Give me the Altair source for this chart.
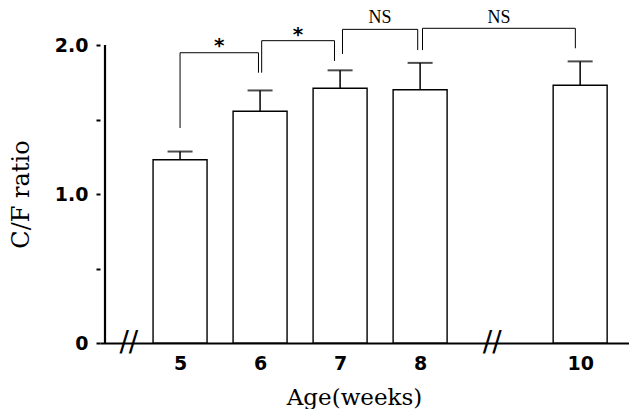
import altair as alt
import pandas as pd

# ---- data ----
ages = [5, 6, 7, 8, 10]
means = [1.23, 1.555, 1.71, 1.70, 1.73]
errs = [0.055, 0.14, 0.12, 0.18, 0.16]

# significance brackets
br_x1 = [5.0, 6.02, 7.03, 8.03]
br_x2 = [5.98, 6.93, 7.97, 9.94]
br_y1 = [1.443, 1.814, 1.94, 1.966]
br_y2 = [1.814, 1.893, 1.966, 1.978]
br_top = [1.948, 2.029, 2.105, 2.112]
br_label = ["*", "*", "NS", "NS"]
lab_y = [1.99, 2.07, 2.18, 2.18]

# axis break positions
breaks_x = [4.36, 8.9]

x_domain = [4.062, 10.548]
y_domain = [0, 2.0]

bars = pd.DataFrame({"age": ages, "mean": means, "err": errs})
bars["top"] = bars["mean"] + bars["err"]

segs = []
for a, b, ya, yb, t in zip(br_x1, br_x2, br_y1, br_y2, br_top):
    segs.append({"x": a, "x2": a, "y": ya, "y2": t})
    segs.append({"x": a, "x2": b, "y": t, "y2": t})
    segs.append({"x": b, "x2": b, "y": yb, "y2": t})
segs = pd.DataFrame(segs)

labs = pd.DataFrame({
    "x": [(a + b) / 2 for a, b in zip(br_x1, br_x2)],
    "y": lab_y,
    "t": br_label,
})
star = labs[labs.t == "*"]
ns = labs[labs.t == "NS"]

brk = pd.DataFrame({"x": breaks_x, "y": [0, 0], "t": ["//", "//"]})
yline = pd.DataFrame({"x": [x_domain[0]], "y": [y_domain[0]], "y2": [y_domain[1]]})

xs = alt.Scale(domain=x_domain, nice=False, zero=False)
ys = alt.Scale(domain=y_domain, nice=False)

xaxis = alt.Axis(
    values=ages, format="d", title="Age(weeks)", titleX=254, titleY=54,
    titleBaseline="middle", titleAlign="center",
    domainColor="black", domainWidth=2, domainOpacity=1,
    titleFont="DejaVu Serif", titleFontSize=23, titleFontWeight="normal", titleColor="black",
)
yaxis = alt.Axis(
    values=[0, 0.5, 1.0, 1.5, 2.0], domain=False,
    labelExpr="datum.value == 0 ? '0' : (datum.value % 1 == 0 ? format(datum.value, '.1f') : '')",
    title="C/F ratio", titleX=-79, titleY=149,
    titleAngle=-90, titleBaseline="middle", titleAlign="center",
    titleFont="DejaVu Serif", titleFontSize=24, titleFontWeight="normal", titleColor="black",
)

base = alt.Chart(bars)

bar = base.mark_bar(size=54, fill="white", stroke="black", strokeWidth=1.4).encode(
    x=alt.X("age:Q", scale=xs, axis=xaxis),
    y=alt.Y("mean:Q", scale=ys, axis=yaxis),
)
axis_line = alt.Chart(yline).mark_rule(color="black", strokeWidth=2.2, clip=False).encode(
    x=alt.X("x:Q", scale=xs), y=alt.Y("y:Q", scale=ys), y2="y2:Q"
)
err = base.mark_rule(color="black", strokeWidth=1.5).encode(
    x=alt.X("age:Q", scale=xs), y=alt.Y("mean:Q", scale=ys), y2="top:Q"
)
cap = base.mark_tick(orient="horizontal", size=25, thickness=2, color="black").encode(
    x=alt.X("age:Q", scale=xs), y=alt.Y("top:Q", scale=ys)
)
brackets = alt.Chart(segs).mark_rule(color="black", strokeWidth=1, clip=False).encode(
    x=alt.X("x:Q", scale=xs), x2="x2:Q", y=alt.Y("y:Q", scale=ys), y2="y2:Q"
)
stars = alt.Chart(star).mark_text(
    font="DejaVu Sans", fontSize=20, fontWeight="bold", color="black", baseline="middle", clip=False
).encode(x=alt.X("x:Q", scale=xs), y=alt.Y("y:Q", scale=ys), text="t:N")
nstext = alt.Chart(ns).mark_text(
    font="Liberation Serif", fontSize=18, color="black", baseline="middle", clip=False
).encode(x=alt.X("x:Q", scale=xs), y=alt.Y("y:Q", scale=ys), text="t:N")
breakmarks = alt.Chart(brk).mark_text(
    font="DejaVu Sans", fontSize=28, color="black", baseline="middle", clip=False
).encode(x=alt.X("x:Q", scale=xs), y=alt.Y("y:Q", scale=ys), text="t:N")

chart = alt.layer(bar, axis_line, err, cap, brackets, stars, nstext, breakmarks).properties(
    width=529, height=298,
    background="white",
    autosize=alt.AutoSizeParams(type="none"),
    padding={"left": 92, "top": 37, "right": 0, "bottom": 66},
).configure_view(stroke=None).configure_axis(
    grid=False, domainColor="black", domainWidth=2, tickColor="black", tickWidth=2,
    labelFont="DejaVu Sans", labelFontWeight="bold", labelFontSize=19, labelColor="black",
).configure_axisX(tickSize=0, labelPadding=11).configure_axisY(tickSize=4, labelPadding=8)

chart.save("out.html", embed_options={"renderer": "svg", "actions": False})
